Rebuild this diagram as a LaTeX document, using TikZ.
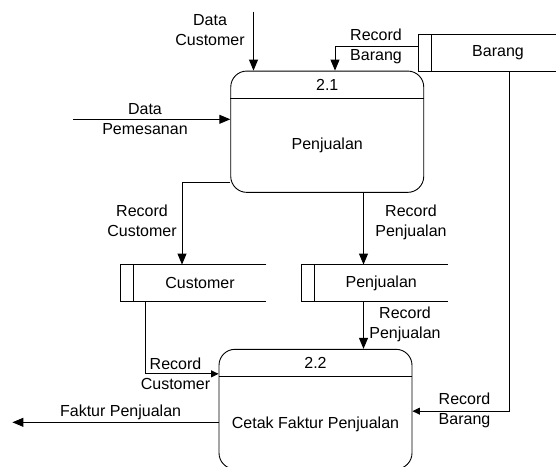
\documentclass[tikz,border=0pt]{standalone}
\usepackage{fontspec}
\setmainfont{Liberation Sans}
\usetikzlibrary{arrows.meta}

\begin{document}
\begin{tikzpicture}[x=1pt,y=-1pt,line width=0.9pt,
  every node/.style={font=\fontsize{16}{20}\selectfont,align=center,inner sep=0pt},
  proc/.style={draw,rounded corners=16pt,minimum width=193pt},
  store/.style={minimum width=132pt,minimum height=36pt},
  flow/.style={-{Triangle[length=11pt,width=9pt]}},
  smallflow/.style={-{Triangle[length=7.5pt,width=7pt]}}]
\useasboundingbox (0,0) rectangle (556,466);
\clip (0,0) rectangle (556,466);

\node[proc,minimum height=121.3pt] (p21) at (327.25,131.7) {};
\draw ([yshift=-27.7pt]p21.north west) -- ([yshift=-27.7pt]p21.north east);
\node (p21id) at ([yshift=-14pt]p21.north) {2.1};
\node (p21name) at ([yshift=-14pt]p21.center) {Penjualan};

\node[proc,minimum height=119.7pt] (p22) at (315.5,409.15) {};
\draw ([yshift=-27.7pt]p22.north west) -- ([yshift=-27.7pt]p22.north east);
\node (p22id) at ([yshift=-14pt]p22.north) {2.2};
\node (p22name) at ([yshift=-15.2pt]p22.center) {Cetak Faktur Penjualan};

\node[store] (barang) at (498,53) {Barang};
\node[store] (cust) at (200,283) {Customer};
\node[store] (pstore) at (381.25,283) {Penjualan};
\foreach \s in {barang,cust,pstore}
  \draw (\s.north east) -- ([xshift=-13pt]\s.north west) -- ([xshift=-13pt]\s.south west) -- (\s.south east)
        (\s.north west) -- (\s.south west);

\coordinate (dcin) at (253.5,11.7);
\coordinate (dpin) at (73,119.3);
\coordinate (rbx) at (335,0);
\coordinate (rcx) at (182,0);
\coordinate (rpx) at (363.5,0);
\coordinate (ccx) at (145.4,0);
\coordinate (bx) at (509,0);
\coordinate (fk) at (12.4,422.3);

\draw[flow] (dcin) -- (dcin |- p21.north);
\node (dclbl) at (210,29.7) {Data\\Customer};

\draw[flow] ([xshift=-13pt,yshift=6.3pt]barang.west) -| (rbx |- p21.north);
\node (rblbl1) at (376,46.7) {Record\\Barang};

\draw[flow] (dpin) -- (dpin -| p21.west);
\node (dplbl) at (145,119.3) {Data\\Pemesanan};

\draw[flow] ([yshift=10.6pt]p21.south west) -| (rcx |- cust.north);
\node (rclbl1) at (142,220.3) {Record\\Customer};

\draw[flow] (rpx |- p21.south) -- (rpx |- pstore.north);
\node (rplbl1) at (411,222.3) {Record\\Penjualan};

\draw[flow] (rpx |- pstore.south) -- (rpx |- p22.north);
\node (rplbl2) at (405,324.8) {Record\\Penjualan};

\draw[smallflow] (ccx |- cust.south) |- ([yshift=-25pt]p22.north west);
\node (rclbl2) at (175.5,373.3) {Record\\Customer};

\draw[smallflow] (bx |- barang.south) |- ([yshift=-2pt]p22.east);
\node (rblbl2) at (464.5,410.2) {Record\\Barang};

\draw[flow] (p22.west |- fk) -- (fk);
\node (fklbl) at (120.6,412.7) {Faktur Penjualan};
\end{tikzpicture}
\end{document}
